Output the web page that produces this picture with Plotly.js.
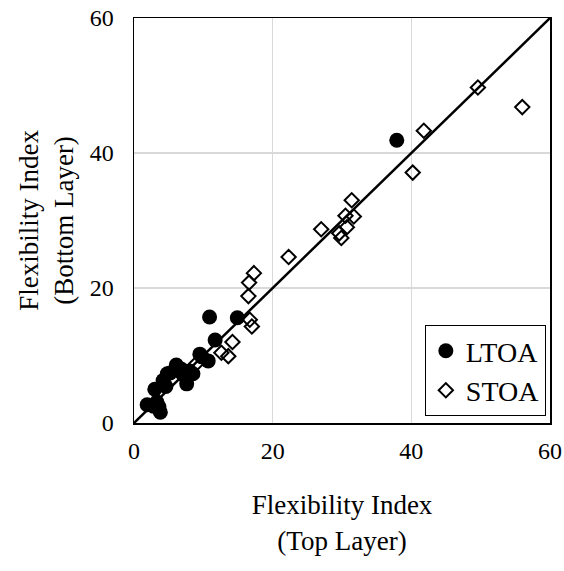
<!DOCTYPE html>
<html><head><meta charset="utf-8">
<script src="https://cdn.plot.ly/plotly-3.0.1.min.js"></script>
<style>html,body{margin:0;padding:0;background:#fff}</style>
</head><body><div id="chart" style="width:564px;height:571px"></div>
<script>
const ltoaX = [1.9, 2.8, 3.6, 3.8, 3.3, 3.0, 4.2, 4.6, 4.8, 5.2, 6.1, 6.8, 7.1, 7.6, 8.0, 8.5, 9.5, 9.8, 10.7, 10.9, 11.7, 14.9, 37.9];
const ltoaY = [2.7, 2.5, 2.4, 1.6, 3.1, 5.0, 6.3, 5.4, 7.3, 7.4, 8.6, 8.0, 7.3, 5.8, 7.7, 7.3, 10.2, 9.8, 9.2, 15.7, 12.3, 15.6, 41.9];
const stoaX = [6.6, 9.0, 12.6, 13.6, 14.2, 16.7, 17.0, 16.5, 16.6, 17.3, 22.3, 27.0, 29.6, 29.9, 30.7, 30.5, 31.7, 31.4, 40.2, 41.8, 49.6, 56.0];
const stoaY = [7.4, 8.8, 10.4, 9.9, 12.0, 15.3, 14.3, 18.8, 20.8, 22.2, 24.6, 28.7, 28.1, 27.4, 29.0, 30.7, 30.6, 33.0, 37.1, 43.3, 49.7, 46.8];
const lineX = [0, 60];
const lineY = [0, 60];
const xTicks = [0, 20, 40, 60];
const yTicks = [0, 20, 40, 60];

const font = {family: '"Liberation Serif", "Times New Roman", serif', color: '#000'};
const traces = [
  {x: lineX, y: lineY, mode: 'lines', line: {color: '#000', width: 2.5}, showlegend: false, hoverinfo: 'skip'},
  {x: ltoaX, y: ltoaY, mode: 'markers', name: 'LTOA', marker: {symbol: 'circle', size: 15, color: '#000'}},
  {x: stoaX, y: stoaY, mode: 'markers', name: 'STOA', marker: {symbol: 'diamond-open', size: 11, color: '#000', line: {width: 2, color: '#000'}}}
];
const layout = {
  width: 564, height: 571,
  margin: {l: 134, r: 14, t: 18, b: 148},
  paper_bgcolor: '#fff', plot_bgcolor: '#fff',
  font: Object.assign({size: 24}, font),
  showlegend: true,
  legend: {x: 0.99, y: 0.017, xanchor: 'right', yanchor: 'bottom', bgcolor: '#fff', bordercolor: '#000', borderwidth: 1,
           font: Object.assign({size: 28}, font), tracegroupgap: 0, itemwidth: 30},
  xaxis: {range: [0, 60], tickvals: xTicks, ticktext: xTicks.map(String), showgrid: true, gridcolor: '#d9d9d9', gridwidth: 1.5,
          zeroline: false, showline: true, linecolor: '#000', linewidth: 1.5, mirror: true, ticks: '', ticklen: 0,
          ticklabelstandoff: 6,
          tickfont: Object.assign({size: 24}, font),
          title: {text: 'Flexibility Index<br>(Top Layer)', font: Object.assign({size: 27}, font), standoff: 32}},
  yaxis: {range: [0, 60], tickvals: yTicks, ticktext: yTicks.map(String), showgrid: true, gridcolor: '#d9d9d9', gridwidth: 1.5,
          zeroline: false, showline: true, linecolor: '#000', linewidth: 1.5, mirror: true, ticks: '', ticklen: 0,
          ticklabelstandoff: 14,
          tickfont: Object.assign({size: 24}, font),
          title: {text: 'Flexibility Index<br>(Bottom Layer)', font: Object.assign({size: 27}, font), standoff: 8}}
};
Plotly.newPlot('chart', traces, layout, {displayModeBar: false, staticPlot: true});
</script>
</body></html>
